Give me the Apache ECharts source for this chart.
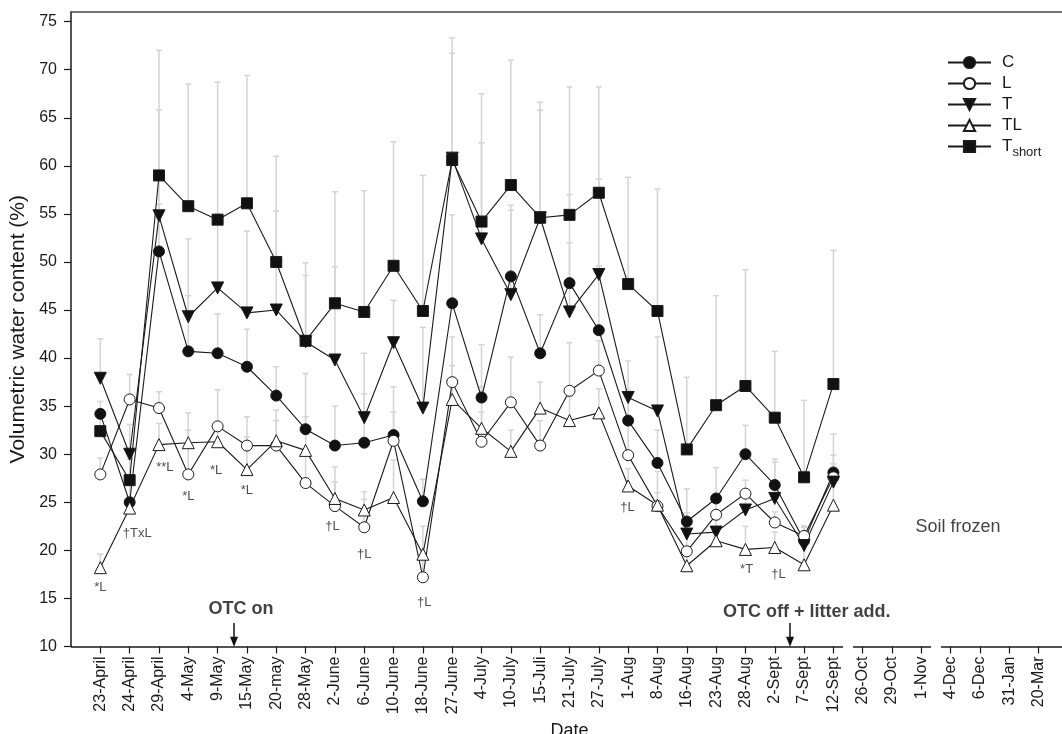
<!DOCTYPE html>
<html>
<head>
<meta charset="utf-8">
<script src="https://cdn.jsdelivr.net/npm/echarts@6/dist/echarts.min.js"></script>
<style>
html,body{margin:0;padding:0;background:#fff}
#chart{width:1062px;height:734px}
</style>
</head>
<body>
<div id="chart"></div>
<script>
// Sampling dates (season 1 + frozen period)
const dates = ['23-April','24-April','29-April','4-May','9-May','15-May','20-may','28-May','2-June','6-June','10-June','18-June','27-June','4-July','10-July','15-Juli','21-July','27-July','1-Aug','8-Aug','16-Aug','23-Aug','28-Aug','2-Sept','7-Sept','12-Sept','26-Oct','29-Oct','1-Nov','4-Dec','6-Dec','31-Jan','20-Mar'];

// Mean volumetric water content (%) per treatment
const meanC      = [34.2,25.0,51.1,40.7,40.5,39.1,36.1,32.6,30.9,31.2,32.0,25.1,45.7,35.9,48.5,40.5,47.8,42.9,33.5,29.1,23.0,25.4,30.0,26.8,21.0,28.1];
const meanL      = [27.9,35.7,34.8,27.9,32.9,30.9,30.9,27.0,24.6,22.4,31.4,17.2,37.5,31.3,35.4,30.9,36.6,38.7,29.9,24.6,19.9,23.7,25.9,22.9,21.5,27.6];
const meanT      = [37.9,30.0,54.8,44.3,47.3,44.7,45.0,41.7,39.8,33.8,41.6,34.8,60.8,52.4,46.6,54.6,44.8,48.7,35.9,34.5,21.7,21.9,24.2,25.4,20.5,27.1];
const meanTL     = [18.2,24.4,31.0,31.2,31.3,28.4,31.4,30.4,25.4,24.2,25.5,19.6,35.7,32.7,30.3,34.8,33.5,34.3,26.7,24.7,18.4,21.0,20.1,20.3,18.5,24.7];
const meanTshort = [32.4,27.3,59.0,55.8,54.4,56.1,50.0,41.8,45.7,44.8,49.6,44.9,60.6,54.2,58.0,54.6,54.9,57.2,47.7,44.9,30.5,35.1,37.1,33.8,27.6,37.3];

// Standard errors (upper bars only)
const seC      = [1.3,2.0,4.9,5.8,4.1,3.9,3.0,5.8,4.1,5.1,5.0,2.3,9.2,5.5,7.4,4.0,9.2,6.7,3.2,3.4,3.4,3.2,3.0,2.7,1.5,4.0];
const seL      = [1.7,2.6,1.7,6.4,3.8,3.0,3.7,3.0,2.5,2.9,3.0,2.3,4.7,5.7,4.7,2.6,5.0,3.1,3.5,3.6,2.1,2.0,1.4,1.1,1.0,2.3];
const seT      = [4.1,3.1,11.0,8.1,7.7,8.5,10.3,6.9,9.7,6.7,4.4,8.4,10.9,10.0,8.8,11.2,7.2,9.9,3.8,7.7,2.2,1.6,1.8,3.8,2.0,1.9];
const seTL     = [1.4,1.1,2.2,1.3,1.2,3.4,2.1,3.5,3.3,1.9,3.9,2.9,3.5,1.7,2.2,2.7,2.5,2.5,1.8,1.3,1.6,1.5,2.4,1.6,3.9,2.3];
const seTshort = [1.4,2.2,13.0,12.7,14.3,13.3,11.0,8.1,11.6,12.6,12.9,14.1,12.7,13.3,13.0,12.0,13.3,11.0,11.1,12.7,7.5,11.4,12.1,6.9,8.0,13.9];

const yTicks = [10,15,20,25,30,35,40,45,50,55,60,65,70,75];

// Significance notes: [date position, height, text]
const notes = [
  [0, 16.1, '*L'], [1.26, 21.8, '\u2020TxL'], [2.2, 28.65, '**L'], [3.0, 25.6, '*L'],
  [3.95, 28.3, '*L'], [5.0, 26.2, '*L'], [7.92, 22.45, '\u2020L'], [9.0, 19.6, '\u2020L'],
  [11.05, 14.6, '\u2020L'], [17.98, 24.5, '\u2020L'], [22.04, 18.0, '*T'], [23.13, 17.5, '\u2020L']
];
// Event captions and arrows
const captions = [
  [4.8, 13.9, 'OTC on', 'bold'],
  [24.09, 13.63, 'OTC off + litter add.', 'bold'],
  [29.25, 22.47, 'Soil frozen', 'normal']
];
const eventArrows = [4.56, 23.52];
// Breaks in the date axis (between season / autumn / winter)
const axisGaps = [[25.33, 25.67], [28.33, 28.67]];

const FONT = "'Liberation Sans', Arial, sans-serif";
const INK = '#1a1a1a';
const X_MIN = -1, X_MAX = 33;

const idx = dates.map((d, i) => i);

function pts(arr) { return arr.map((v, i) => [i, v]); }

function lineSeries(name, arr, symbol, fill, size, rotate) {
  return {
    type: 'line', name: name, data: pts(arr), z: 3,
    symbol: symbol, symbolSize: size, symbolRotate: rotate || 0,
    showAllSymbol: true,
    lineStyle: { color: INK, width: 1.1 },
    itemStyle: { color: fill, borderColor: INK, borderWidth: 1 },
    emphasis: { disabled: true },
    animation: false
  };
}

function errorSeries(name, means, ses) {
  return {
    type: 'custom', name: name + ' SE', silent: true, z: 1, animation: false,
    data: means.map((m, i) => [i, m, m + ses[i]]),
    encode: { x: 0, y: [1, 2] },
    renderItem: function (params, api) {
      const x = api.value(0);
      const lo = api.coord([x, api.value(1)]);
      const hi = api.coord([x, api.value(2)]);
      const hw = 3;
      const st = { stroke: '#d4d4d4', lineWidth: 1.5 };
      return {
        type: 'group', children: [
          { type: 'line', shape: { x1: lo[0], y1: lo[1], x2: hi[0], y2: hi[1] }, style: st },
          { type: 'line', shape: { x1: hi[0] - hw, y1: hi[1], x2: hi[0] + hw, y2: hi[1] }, style: st }
        ]
      };
    }
  };
}

// axis line pieces between the gaps
const segEdges = [X_MIN];
axisGaps.forEach(g => { segEdges.push(g[0]); segEdges.push(g[1]); });
segEdges.push(X_MAX);
const axisSegments = [];
for (let k = 0; k < segEdges.length; k += 2) {
  axisSegments.push([{ coord: [segEdges[k], 10] }, { coord: [segEdges[k + 1], 10] }]);
}

const chart = echarts.init(document.getElementById('chart'), null, { renderer: 'canvas' });

const option = {
  backgroundColor: '#fff',
  animation: false,
  textStyle: { fontFamily: FONT },
  grid: { left: 71, top: 12, width: 997, bottom: 87.5, containLabel: false, outerBoundsMode: 'none' },
  legend: {
    orient: 'vertical', left: 947, top: 54, padding: 0,
    itemWidth: 43, itemHeight: 14, itemGap: 4,
    selectedMode: false,
    data: ['C', 'L', 'T', 'TL', 'Tshort'],
    formatter: function (n) { return n === 'Tshort' ? '{m|T}{s|short}' : n; },
    textStyle: {
      fontFamily: FONT, fontSize: 17, color: INK, lineHeight: 14, padding: [0, 0, 0, 6],
      rich: {
        m: { fontFamily: FONT, fontSize: 17, color: INK },
        s: { fontFamily: FONT, fontSize: 13, color: INK, padding: [12, 0, 0, 0] }
      }
    }
  },
  xAxis: [{
    type: 'value', min: X_MIN, max: X_MAX,
    name: 'Date', nameLocation: 'middle', nameGap: 67,
    nameTextStyle: { fontFamily: FONT, fontSize: 18, color: INK },
    splitLine: { show: false },
    axisLine: { show: false, onZero: false },
    axisTick: { show: true, customValues: idx, length: 7, lineStyle: { color: INK, width: 1.2 } },
    axisLabel: {
      customValues: idx, rotate: 90, margin: 10,
      fontFamily: FONT, fontSize: 16, color: INK,
      formatter: function (v) { return dates[v] || ''; }
    }
  }, {
    type: 'value', min: X_MIN, max: X_MAX, position: 'top',
    axisLine: { show: true, onZero: false, lineStyle: { color: '#444', width: 1.5 } },
    axisTick: { show: false }, axisLabel: { show: false }, splitLine: { show: false }
  }],
  yAxis: {
    type: 'value', min: 10, max: 76, interval: 5,
    name: 'Volumetric water content (%)', nameLocation: 'middle', nameGap: 35,
    nameTextStyle: { fontFamily: FONT, fontSize: 21, color: INK },
    splitLine: { show: false },
    axisLine: { show: true, onZero: false, lineStyle: { color: INK, width: 1.5 } },
    axisTick: { show: true, customValues: yTicks, length: 7, lineStyle: { color: INK, width: 1.2 } },
    axisLabel: { customValues: yTicks, margin: 14, fontFamily: FONT, fontSize: 16, color: INK }
  },
  series: [
    errorSeries('C', meanC, seC),
    errorSeries('L', meanL, seL),
    errorSeries('T', meanT, seT),
    errorSeries('TL', meanTL, seTL),
    errorSeries('Tshort', meanTshort, seTshort),
    Object.assign(lineSeries('C', meanC, 'circle', '#111', 11), {
      markLine: {
        silent: true, symbol: ['none', 'none'], animation: false,
        label: { show: false },
        lineStyle: { color: INK, width: 1.5, type: 'solid' },
        data: axisSegments
      }
    }),
    lineSeries('L', meanL, 'circle', '#fff', 11),
    lineSeries('T', meanT, 'triangle', '#111', 12, 180),
    lineSeries('TL', meanTL, 'triangle', '#fff', 12),
    lineSeries('Tshort', meanTshort, 'rect', '#111', 11),
    {
      type: 'scatter', name: 'notes', silent: true, z: 5, animation: false,
      symbolSize: 0,
      data: notes.map(n => ({
        value: [n[0], n[1]],
        label: { show: true, position: 'inside', formatter: n[2], fontFamily: FONT, fontSize: 13, color: '#222' }
      })).concat(captions.map(c => ({
        value: [c[0], c[1]],
        label: { show: true, position: 'inside', formatter: c[2], fontFamily: FONT, fontSize: 18, fontWeight: c[3], color: '#111' }
      }))),
      markLine: {
        silent: true, animation: false,
        symbol: ['none', 'triangle'], symbolSize: [8, 10],
        label: { show: false },
        lineStyle: { color: '#111', width: 1.5, type: 'solid' },
        itemStyle: { color: '#111' },
        data: eventArrows.map(x => [{ coord: [x, 12.45] }, { coord: [x, 10.5] }])
      }
    }
  ]
};

chart.setOption(option);
</script>
</body>
</html>
